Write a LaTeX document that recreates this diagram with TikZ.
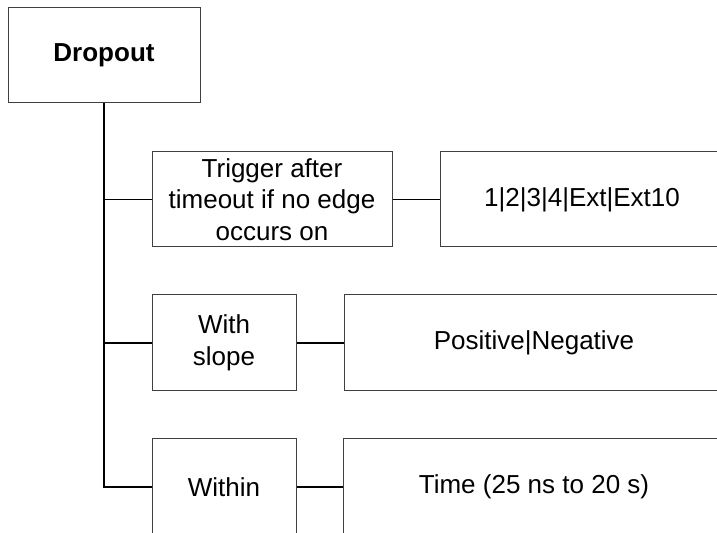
\documentclass[tikz,border=0pt]{standalone}
\usepackage{fontspec}
\setmainfont{Liberation Sans}
\usetikzlibrary{calc}
\definecolor{boxgray}{HTML}{404040}
\tikzset{
  menubox/.style={draw=boxgray, line width=0.5pt, fill=white, inner sep=0pt, align=center,
    font=\fontsize{13}{15.75}\selectfont, minimum height=47.5pt},
  wire/.style={draw=black, line width=0.8pt}
}

\begin{document}
\begin{tikzpicture}[x=0.5pt, y=-0.5pt]
          \useasboundingbox (0,0) rectangle (717,533);
          \clip (0,0) rectangle (717,533);
          % Caja raiz
          \node[menubox, minimum width=96pt, font=\fontsize{13}{15.75}\selectfont\bfseries] (dropout) at (104,55.5) {Dropout};
          % Primera fila
          \node[menubox, minimum width=120pt] (trigger) at (272,199.5) {Trigger after\\timeout if no edge\\occurs on};
          \node[menubox, minimum width=142pt] (source) at (582,199.5) {1|2|3|4|Ext|Ext10};
          % Segunda fila
          \node[menubox, minimum width=72pt, minimum height=48pt] (slope) at (224,343) {With\\slope};
          \node[menubox, minimum width=190pt, minimum height=48pt] (polarity) at (534,343) {Positive|Negative};
          % Tercera fila
          \node[menubox, minimum width=72pt, minimum height=48pt] (within) at (224,487) {Within};
          \node[menubox, minimum width=190.5pt, minimum height=48pt] (timerange) at (534,487) {Time (25 ns to 20 s)};
          % Conexiones
          \draw[wire] (dropout.south) |- (within.west);
          \draw[wire] (dropout.south |- trigger.west) -- (trigger.west);
          \draw[wire] (dropout.south |- slope.west) -- (slope.west);
          \draw[wire] (trigger.east) -- (source.west);
          \draw[wire] (slope.east) -- (polarity.west);
          \draw[wire] (within.east) -- (timerange.west);
        \end{tikzpicture}
\end{document}
